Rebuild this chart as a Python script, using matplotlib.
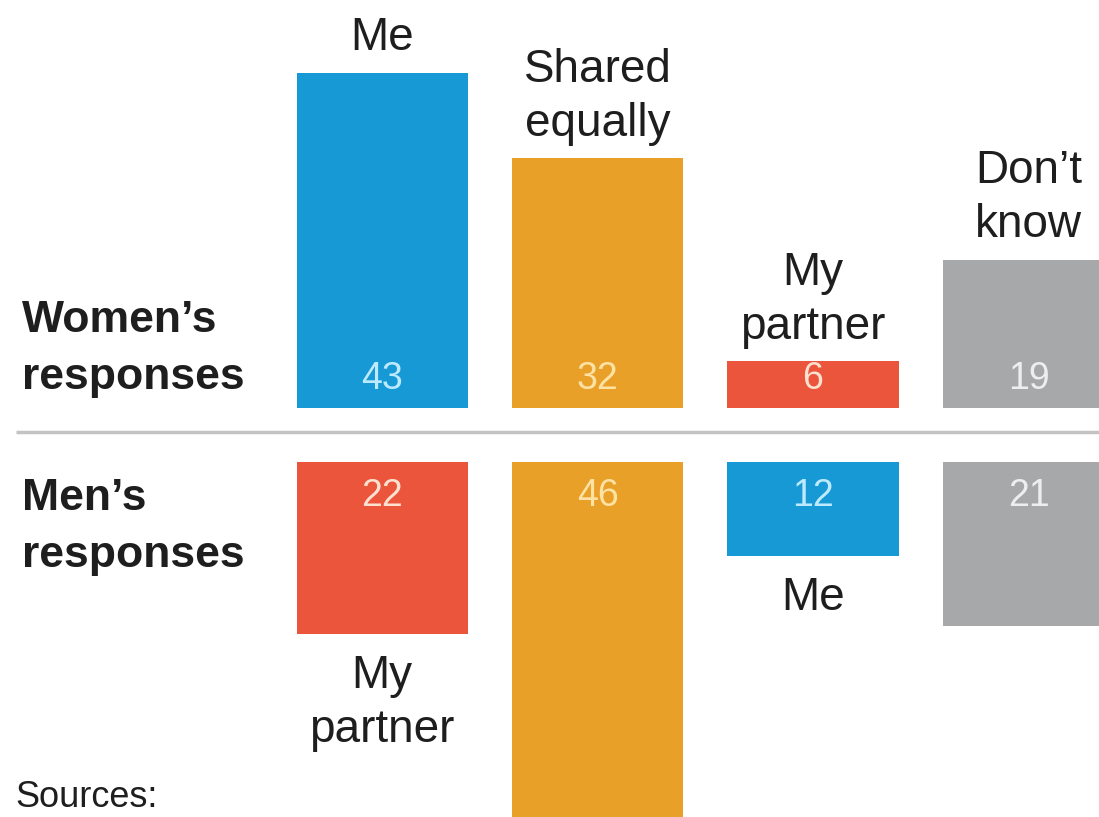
import numpy as np
import matplotlib.pyplot as plt

women_labels = ["Me", "Shared\nequally", "My\npartner", "Don\u2019t\nknow"]
women = [43, 32, 6, 19]
women_colors = ["#1699d5", "#e9a028", "#ea553b", "#a6a8aa"]
women_num_colors = ["#bdeaff", "#fde2a4", "#fde0cf", "#eeeeee"]

men_labels = ["My\npartner", "", "Me", ""]
men = [22, 46, 12, 21]
men_colors = ["#ea553b", "#e9a028", "#1699d5", "#a6a8aa"]
men_num_colors = ["#fde0cf", "#fde2a4", "#bdeaff", "#eeeeee"]

x = np.arange(len(women))
gap = 3.46      # half distance between the two baselines
w = 0.794

lab_font = ["Liberation Sans", "DejaVu Sans"]

fig = plt.figure(figsize=(10.99, 8.17), dpi=100)
ax = fig.add_axes([0, 0, 1, 1])
ax.set_xlim(-1.773, 3.327)
ax.set_ylim(-48.97, 55.77)
ax.axis("off")

# women: bars go up, men: bars go down
ax.bar(x, women, width=w, bottom=gap, color=women_colors)
ax.bar(x, [-v for v in men], width=w, bottom=-gap, color=men_colors)

ax.plot([-1.70, 3.4], [0.38, 0.38], color="#c3c3c3", lw=2.5, solid_capstyle="butt")

for i in x:
    ax.text(i, gap + 3.7, str(women[i]), ha="center", va="center",
            fontsize=27, family=lab_font, color=women_num_colors[i])
    ax.text(i, -gap - 4.4, str(men[i]), ha="center", va="center",
            fontsize=27, family=lab_font, color=men_num_colors[i])
    ax.text(i, gap + women[i] + 1.6, women_labels[i], ha="center", va="bottom",
            fontsize=33, family=lab_font, color="#1e1e1e", linespacing=1.3)
    if men_labels[i]:
        ax.text(i, -gap - men[i] - 2.6, men_labels[i], ha="center", va="top",
                fontsize=33, family=lab_font, color="#1e1e1e", linespacing=1.3)

ax.text(-1.671, 11.0, "Women\u2019s\nresponses", ha="left", va="center",
        fontsize=32, fontweight="bold", family=lab_font, color="#1e1e1e",
        linespacing=1.5)
ax.text(-1.671, -11.8, "Men\u2019s\nresponses", ha="left", va="center",
        fontsize=32, fontweight="bold", family=lab_font, color="#1e1e1e",
        linespacing=1.5)
ax.text(-1.703, -46.5, "Sources:", ha="left", va="center",
        fontsize=26, family=lab_font, color="#1e1e1e")

fig.savefig("out.png", dpi=100)
